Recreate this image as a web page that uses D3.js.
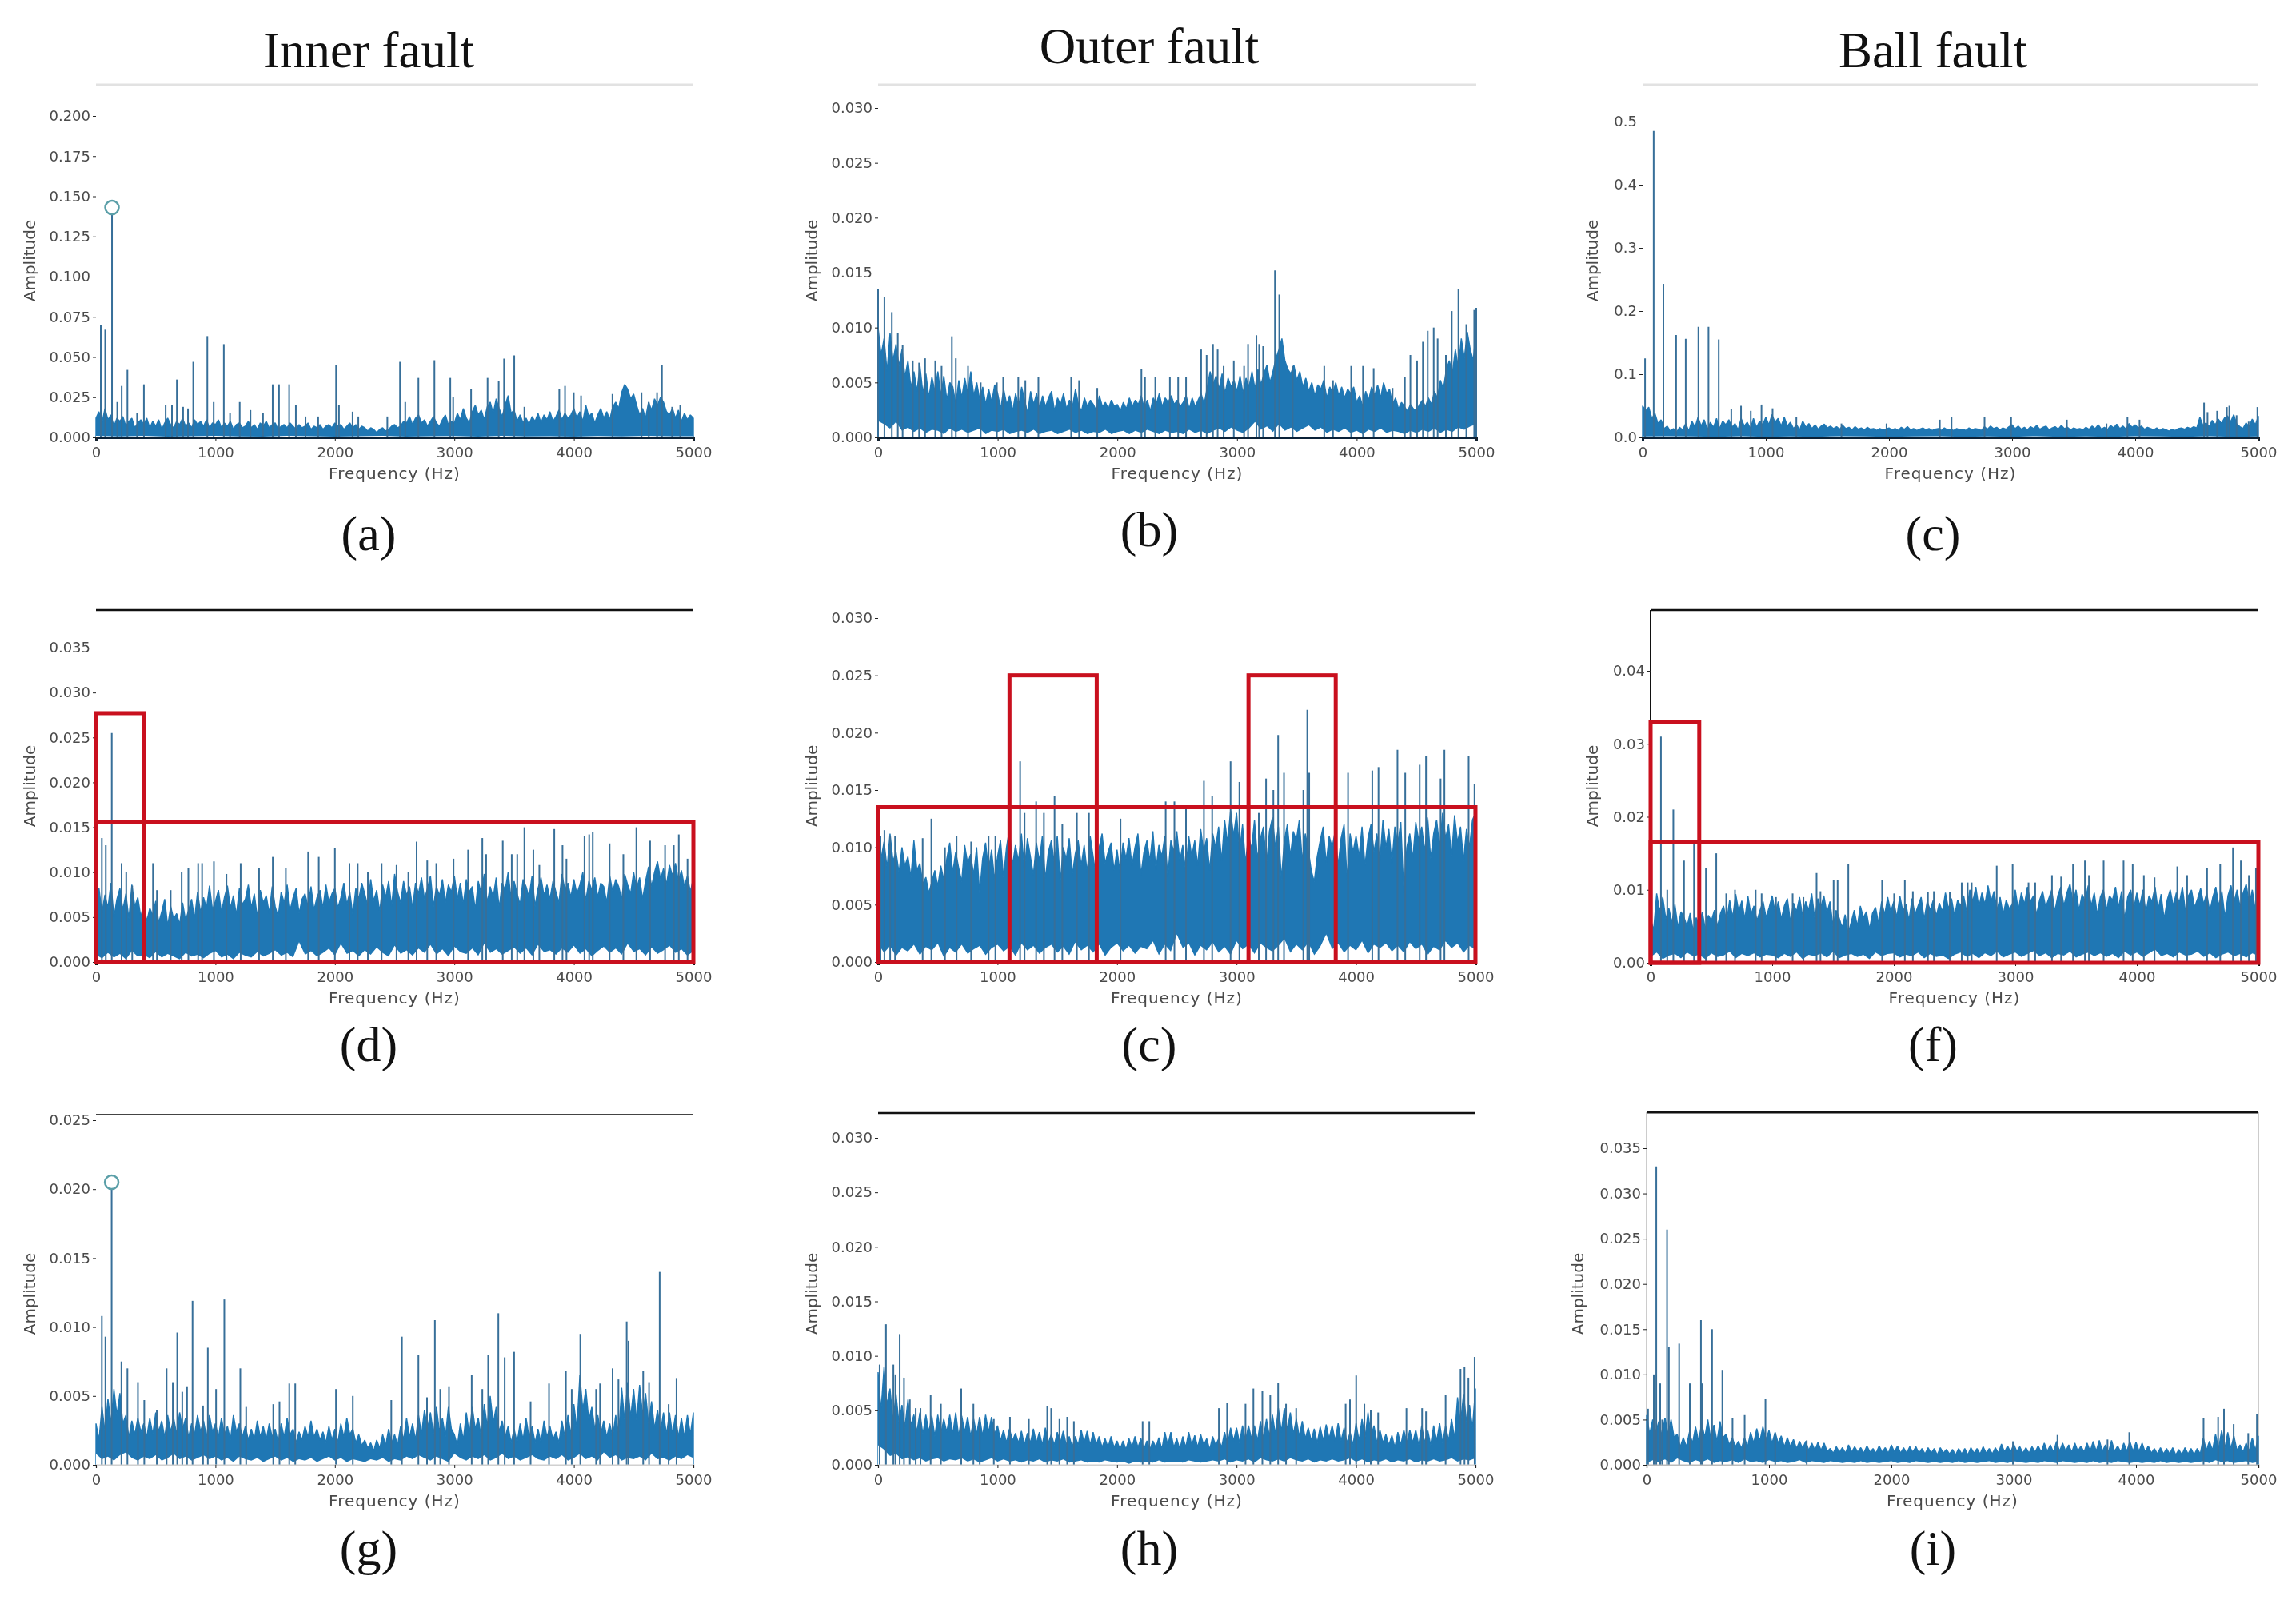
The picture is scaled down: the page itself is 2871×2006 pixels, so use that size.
<!DOCTYPE html>
<html><head><meta charset="utf-8">
<script src="https://cdn.jsdelivr.net/npm/d3@7/dist/d3.min.js"></script>
<style>
html,body{margin:0;padding:0;background:#fff}
svg{display:block}
.soft{filter:blur(0.55px)}
</style></head><body>
<script>
// ---------- data ----------
// spike and tick amplitudes: thousandths. upper/lower profiles: thousandths for A and C, ten-thousandths for the rest.
const freqTicks=[0,1000,2000,3000,4000,5000];
const rowTitles=["Inner fault","Outer fault","Ball fault"];
const captions=["(a)","(b)","(c)","(d)","(c)","(f)","(g)","(h)","(i)"];
const ticksA=[0,25,50,75,100,125,150,175,200];
const ticksB=[0,5,10,15,20,25,30];
const ticksC=[0,100,200,300,400,500];
const ticksD=[0,5,10,15,20,25,30,35];
const ticksE=[0,5,10,15,20,25,30];
const ticksF=[0,10,20,30,40];
const ticksG=[0,5,10,15,20,25];
const ticksH=[0,5,10,15,20,25,30];
const ticksI=[0,5,10,15,20,25,30,35];

const upperA=[12,16,9,18,11,14,7,12,10,13,7,10,12,6,9,11,8,12,6,10,7,11,5,9,12,8,6,10,8,12,7,9,6,11,8,10,7,11,6,9,
8,11,6,9,7,10,5,8,9,6,7,10,6,8,5,9,7,10,6,8,9,5,7,8,6,9,7,5,8,6,7,9,5,7,6,8,5,7,8,6,
9,7,8,5,7,9,6,8,5,7,6,4,6,5,3,5,6,4,5,7,8,6,7,10,9,13,8,12,14,9,11,7,10,13,9,7,11,14,8,10,
9,15,11,18,12,9,16,20,14,17,11,19,22,15,24,18,13,20,26,15,17,10,14,9,12,8,13,10,15,9,14,11,16,10,13,17,11,15,12,14,
18,12,16,10,20,13,15,9,14,18,12,16,11,19,22,18,28,33,30,24,27,20,14,18,12,22,17,24,20,25,22,16,14,18,12,17,10,15,11,14,12];
const spikeFA=[40,77,134,178,215,263,344,401,583,636,677,729,770,814,932,985,1070,1122,1203,1293,1398,1479,1532,1617,1673,1754,1860,2010,2034,2148,2196,2439,2545,2589,2699,2833,2966,2990,3140,3278,3371,3416,3501,3586,3878,3926,3999,4060,4323,4566,4627,4696,4737,4822,4890];
const spikeVA=[70,67,143,22,32,42,15,33,20,20,36,19,18,47,63,22,58,15,22,17,15,33,33,33,20,13,13,45,20,16,13,13,47,22,37,48,37,25,30,37,35,49,51,19,30,32,28,26,27,28,22,28,45,19,20];
const lowerA=[1,.6,1,.5,.8,1,.6,.5,1,.7,.5,.8,1,.5,.7,.9,.5,1,.6,.8,.5,.9,.6,1,.7,.8];

const upperB=[100,75,90,60,95,70,85,65,80,55,70,45,60,42,65,40,58,36,55,42,60,38,56,34,50,46,30,52,36,54,40,60,38,50,34,46,30,44,32,48,
40,26,44,30,38,24,40,28,46,34,22,42,30,40,26,38,28,36,42,24,36,30,40,26,34,28,44,30,24,36,28,34,30,24,38,28,32,26,34,28,
30,24,32,26,36,28,34,30,38,26,34,24,36,30,40,28,36,32,38,30,34,28,32,38,26,36,28,34,40,30,45,60,48,56,44,58,40,54,46,52,
42,56,40,54,46,60,44,62,48,58,66,50,60,72,80,90,70,62,58,66,52,60,46,54,42,50,38,48,44,52,36,46,40,50,38,46,36,44,40,46,
32,38,28,42,34,46,38,48,36,50,40,44,30,36,26,32,28,24,30,26,24,30,34,28,36,30,42,36,52,44,62,70,58,80,64,90,72,96,80,70,100];
const spikeFB=[0,53,115,165,205,290,343,393,478,531,617,650,752,858,993,1046,1172,1231,1340,1614,1680,1832,2201,2231,2317,2439,2508,2574,2700,2746,2799,2838,2888,2973,3059,3092,3162,3185,3218,3317,3353,3465,3729,3802,3954,4053,4142,4300,4403,4449,4505,4554,4594,4644,4677,4746,4795,4851,4917,4983,5000];
const spikeVB=[13.5,12.8,11.4,9.5,8.4,7,6.8,7.2,7,6.5,9.2,7.2,6.5,5,5,5.5,5.5,5.2,5.5,5.5,5.2,4.5,6.2,5.5,5.5,5.5,5.5,5.5,8,7.5,8.5,8,6.5,7,6.5,8.5,9.3,8.5,8.3,15.2,13,6.5,6.5,5.2,6.5,6.5,6.3,4.5,5.5,7.5,7,8.7,9.7,10,9,7.5,11.5,13.5,10.3,11.6,11.8];
const lowerB=[15,12,8,14,6,9,5,8,4,7,6,3,8,5,7,4,6,8,3,6,5,7,3,5,6,4,7,3,5,6,3,5,7,4,6,3,5,4,7,3,5,6,3,6,4,7,5,3,6,4,5,3,7,4,6,3,6,8,5,9,6,4,8,14,7,10,5,12,6,9,5,8,11,6,9,4,7,5,8,4,6,3,7,5,8,4,6,5,3,6,4,7,5,8,4,7,5,9,7,10,12];

const upperC=[50,42,48,30,38,22,28,14,18,10,14,8,16,12,22,10,26,16,32,18,28,12,24,16,30,14,26,20,28,16,22,12,30,18,24,14,30,16,26,20,
32,20,36,24,30,18,32,18,24,14,20,12,26,16,22,14,20,13,18,21,15,18,14,17,13,19,14,16,12,17,13,15,12,16,13,14,11,14,12,13,
15,12,14,11,16,13,17,12,14,11,13,15,12,14,11,13,14,11,15,12,13,11,14,12,13,11,15,12,14,13,11,17,13,18,14,16,12,15,13,17,
20,14,18,13,16,12,17,14,19,13,16,18,12,15,17,13,19,14,16,12,15,13,14,12,16,13,18,14,20,13,16,12,19,15,21,14,18,13,22,16,
20,15,18,13,16,14,12,15,11,14,12,10,13,11,14,15,13,16,14,17,15,32,19,23,17,27,20,29,22,31,34,25,36,21,17,14,23,17,29,20,34];
const spikeFC=[20,90,169,272,350,453,535,618,720,799,878,965,1055,1248,1614,1980,2413,2508,2776,2992,3445,3767,3937,4035,4559,4587,4665,4744,4764,4823,4921,4992];
const spikeVC=[125,485,243,162,156,175,175,155,45,50,42,52,46,32,22,22,28,32,32,32,28,22,32,28,55,40,42,48,50,35,25,48];
const lowerC=[1.5,2,1.5,1,2,1,1.5,1,2,1.5,1,1.5,2,1,1.5,1,2,1,1.5,1,2,1.5,1,2,1,1.5];

const upperD=[50,82,55,75,60,88,50,70,82,58,76,48,86,62,72,50,66,45,60,52,68,44,56,70,40,62,48,54,42,66,46,58,70,48,78,55,72,60,85,58,
68,80,55,72,85,60,74,52,82,64,70,86,60,76,50,80,66,74,54,84,62,50,78,66,86,58,72,82,54,70,76,62,84,58,72,80,60,86,66,76,
82,60,72,88,64,78,52,82,70,88,76,62,92,68,80,56,86,72,90,62,98,78,66,90,74,84,60,88,76,94,70,82,96,62,84,74,92,66,86,78,
96,70,88,64,92,78,84,58,90,76,98,66,84,72,94,60,88,80,100,70,90,76,64,92,84,72,96,62,82,94,74,86,70,90,78,66,98,80,88,72,
92,76,86,100,68,90,80,94,72,88,84,66,96,78,92,84,70,98,86,76,100,82,94,70,90,106,84,100,112,92,104,86,108,96,110,90,102,84,96,78,94];
const spikeFD=[49,82,132,214,253,303,477,510,625,717,773,855,888,987,1092,1211,1365,1480,1589,1776,1865,2000,2122,2191,2276,2391,2516,2615,2684,2773,2849,2993,3115,3234,3266,3405,3480,3526,3586,3661,3711,3836,3905,3938,4089,4128,4158,4299,4414,4523,4638,4763,4836,4878,4951,5000];
const spikeVD=[13.8,13,25.5,11,10,8.5,11,8,8,10,10.5,11,11,11.2,9.8,11,10.5,11.7,10.5,12.3,11.7,12.7,11,11,10,11,10.8,10,13.4,11.3,11,11.5,12.5,13.8,12,13.5,12,12,15,12.5,10.8,14.8,13,11.5,14,14.2,14.5,13.2,12,15,13.5,13,13,14.2,11.5,11.5];
const lowerD=[8,4,10,5,9,3,12,6,8,4,11,5,9,6,3,10,6,8,4,9,12,5,8,3,10,7,5,11,6,9,13,7,10,5,22,8,12,6,10,15,7,20,9,12,6,13,8,16,10,6,18,9,13,7,15,10,19,8,14,6,17,11,9,15,7,20,10,14,8,12,16,9,15,7,19,11,13,8,15,10,18,9,14,6,12,17,10,15,8,20,11,14,7,16,9,13,18,10,14,7,12];

const upperE=[120,90,105,82,112,88,96,78,100,84,92,74,106,80,86,68,74,60,70,80,66,84,72,90,104,78,96,82,70,102,86,94,76,100,60,90,104,80,98,72,
92,106,74,100,116,84,102,88,112,80,108,92,76,104,88,110,72,96,106,86,110,70,100,90,108,76,94,106,84,102,78,110,92,74,100,112,86,96,104,80,
98,78,104,90,108,84,100,112,76,96,106,88,114,80,102,92,110,74,106,96,114,88,102,78,110,92,106,84,116,96,108,80,112,100,118,88,124,104,132,110,
130,96,120,86,112,98,124,90,108,118,84,114,126,100,118,72,106,120,92,114,106,124,88,112,98,80,70,92,106,118,86,110,100,114,84,108,120,72,112,96,
110,92,118,84,108,120,96,112,88,124,100,116,86,118,104,122,60,100,112,90,122,106,118,96,126,90,112,124,100,130,108,120,92,128,104,118,88,116,100,124,130];
const spikeFE=[20,53,101,142,373,446,560,657,779,925,982,1189,1226,1323,1388,1477,1542,1664,1765,2029,2407,2480,2577,2727,2796,2950,3024,3186,3247,3308,3348,3397,3559,3592,3608,3933,4136,4188,4347,4412,4533,4586,4708,4740,4943,4992];
const spikeVE=[11,11.5,11,11,10.8,12.5,10,11,10.5,11,11,17.5,13,14,13,14.5,12,13,13,12.5,14,14,13.5,15.8,14.5,17.5,15.7,13,16,15,19.8,16.5,15,22,16.5,16.5,16.7,17,18.5,16.5,17.2,18,16,18.5,18,15.5];
const lowerE=[16,8,14,5,12,9,15,6,13,10,16,4,12,8,15,7,11,14,6,12,15,9,13,5,16,10,14,7,12,15,8,13,6,17,10,14,8,15,5,12,16,9,14,7,13,11,18,6,15,9,24,12,16,5,14,10,17,8,13,6,18,11,15,7,16,12,9,14,20,8,15,10,17,6,13,24,11,16,8,14,10,18,7,15,12,16,9,14,8,17,11,15,6,13,10,18,12,16,8,14,11];

const upperF=[60,45,95,70,90,60,75,55,80,48,70,62,50,68,44,62,52,70,46,65,58,72,50,68,78,56,86,62,94,70,85,60,92,66,78,58,72,84,62,76,
92,68,84,60,78,88,56,82,70,90,64,84,72,95,60,88,76,92,68,84,50,72,62,48,66,40,56,72,50,78,62,70,46,68,76,54,84,66,90,70,
84,62,92,70,80,58,88,66,78,90,60,84,72,86,64,82,70,96,74,88,64,86,78,92,70,100,84,104,76,96,80,106,84,98,72,90,66,86,74,80,
100,72,96,80,104,84,92,66,86,98,76,88,100,70,92,104,78,96,108,82,100,72,94,84,106,78,96,66,90,100,72,92,86,104,76,98,60,90,100,74,
96,78,100,68,92,84,104,72,94,60,86,100,78,96,82,104,70,92,100,76,88,102,80,96,70,90,104,78,98,62,92,106,84,100,76,96,108,80,100,72,105];
const spikeFF=[85,137,187,275,357,455,540,622,694,864,913,1031,1168,1257,1365,1397,1505,1538,1626,1904,2003,2091,2157,2281,2330,2461,2559,2608,2641,2847,2978,3109,3164,3302,3377,3475,3573,3606,3727,3891,3966,4058,4146,4333,4414,4578,4686,4791,4856,4922,4980];
const spikeVF=[31,10,21,14,16.8,13,15,9.5,10,10,9.5,9,9.5,9,12.3,9.8,11.3,11.3,13.5,11.3,9.5,11.3,9.8,9.7,9.8,9.7,11,11,11,13.3,13.5,11,11,12,11.8,13.5,14,12,14,14,13.5,12,11.7,13.2,12,13,13.5,15.8,14,12,13];
const lowerF=[8,14,5,10,12,6,14,9,11,5,13,8,10,15,6,12,9,13,7,11,10,6,12,8,14,5,11,9,13,7,15,6,10,12,8,11,5,14,9,12,13,7,11,9,14,6,12,8,10,5,11,14,8,12,6,13,9,15,7,11,14,8,12,16,9,13,6,12,10,15,7,11,14,9,13,8,12,6,15,10,14,8,13,18,9,12,7,14,10,11,15,8,13,6,11,14,9,12,7,13,10];

const upperG=[30,18,42,24,48,30,55,36,52,30,36,20,32,22,34,24,30,20,34,22,38,24,32,20,36,24,34,22,38,26,34,20,30,22,36,24,32,20,36,24,
30,20,34,22,28,18,36,24,30,20,28,18,26,18,32,20,28,18,30,20,26,16,30,20,34,22,26,16,24,18,28,20,32,20,26,18,24,16,28,18,
26,16,30,20,34,22,26,16,22,14,18,12,16,10,18,12,22,14,26,16,22,14,28,18,34,20,30,18,36,22,40,26,38,22,42,24,34,20,42,26,
22,14,30,18,38,22,42,26,34,20,44,28,50,30,42,24,32,20,28,16,26,16,30,18,34,20,28,16,26,16,32,20,28,18,24,16,32,20,36,22,
44,26,65,40,55,32,42,26,36,22,32,20,30,20,36,22,56,32,60,34,55,32,58,36,52,30,46,26,40,24,38,22,38,22,36,20,34,20,36,22,38];
const spikeFG=[49,79,131,213,263,351,404,509,591,643,680,722,762,808,896,936,1005,1074,1208,1257,1484,1536,1618,1668,2009,2150,2472,2561,2699,2771,2837,2882,2955,3145,3234,3283,3368,3421,3500,3638,3792,3933,3982,4054,4186,4219,4324,4373,4442,4458,4580,4629,4718,4793,4859];
const spikeVG=[10.8,9.3,20.5,7.5,7,6,4.7,4,7,6,9.6,5.3,5.7,11.9,4.3,8.5,5.5,12,7,4.2,4.4,4.6,5.9,5.9,5.5,5,4.7,9.3,8,4.9,10.5,5.5,5.7,6.5,5.5,8,11,7.8,8.2,4.6,5.9,6.8,5.5,9.5,5.5,5.9,7,6.2,10.4,9,6.8,6,14,4.4,6.3];
const lowerG=[8,4,6,3,7,9,5,3,6,4,7,3,5,8,4,6,3,5,7,4,6,3,5,2,6,4,3,5,2,4,6,3,5,2,4,3,5,2,4,6,3,5,2,4,3,2,4,3,5,2,4,3,6,4,7,5,3,6,4,2,8,5,3,6,4,7,3,5,8,4,6,3,5,7,4,3,6,4,7,3,5,8,4,6,3,9,5,7,3,5,4,6,3,8,4,5,3,6,4,7,5];

const upperH=[85,50,90,55,70,40,65,38,55,34,60,36,46,30,48,28,46,30,45,26,46,28,42,30,46,28,48,26,45,30,44,26,42,28,44,26,46,30,44,28,
36,22,32,20,33,22,29,20,31,18,29,20,33,20,30,18,34,20,28,18,30,20,31,18,26,16,26,18,32,20,31,18,30,18,26,16,24,16,26,16,
22,14,22,14,24,16,26,16,24,14,22,14,22,16,25,14,30,18,30,16,24,14,26,16,30,18,27,16,28,18,24,14,26,18,24,16,30,18,34,22,
34,20,36,22,36,24,36,22,40,24,42,26,46,28,52,30,52,32,48,28,42,26,40,24,34,22,33,20,35,22,37,24,36,22,38,22,34,20,30,18,
38,22,42,24,48,26,36,20,32,20,28,18,27,16,30,18,32,20,32,20,32,18,36,20,32,18,36,22,38,20,36,22,42,24,62,38,65,40,55,34,70];
const spikeFH=[13,66,128,145,181,217,266,315,355,440,526,696,798,851,969,1104,1262,1416,1449,1518,1583,1639,2214,2270,2852,2921,3075,3141,3216,3282,3348,3414,3499,3913,3949,4001,4070,4123,4185,4422,4553,4586,4750,4875,4908,4941,4993];
const spikeVH=[9.2,12.9,9.2,8.3,12,8,6,5.2,5.2,6.4,5.6,7,5.6,4.2,4.2,4.4,4.2,5.4,5.2,4.2,4.4,4,4,4,5.2,5.7,5.6,7,6.8,6.4,7.5,5.6,5.2,5.6,6,8.2,5.6,5,4.8,5.2,5.2,4.9,6.4,8.8,9,8,9.9];
const lowerH=[18,14,8,10,5,7,4,6,3,5,6,3,5,4,6,3,5,2,4,6,3,5,3,4,2,4,3,5,2,4,3,5,2,3,4,2,3,2,4,3,2,3,1,3,2,3,2,4,2,3,3,2,4,3,2,3,4,3,5,2,4,3,5,2,6,4,3,5,3,6,4,3,5,2,4,3,5,3,4,6,3,5,2,4,3,5,2,4,3,5,2,4,3,5,3,4,6,3,5,4,6];

const upperI=[55,34,50,36,48,32,52,34,50,30,34,20,30,20,36,24,42,26,46,30,50,28,44,26,48,30,34,22,30,20,26,18,30,20,36,24,40,26,42,28,
38,24,36,24,32,20,30,20,28,18,26,18,26,16,24,16,25,16,24,15,18,13,20,14,19,13,22,14,20,14,19,13,21,14,18,13,21,14,19,13,
22,14,21,13,19,13,20,14,20,13,18,12,19,13,18,11,19,13,17,12,17,11,18,12,18,11,19,13,18,12,20,13,18,12,19,13,23,14,21,14,
23,15,20,13,19,13,20,14,21,14,24,15,22,14,26,15,24,15,22,14,24,15,21,14,24,15,26,15,27,15,22,14,27,15,21,14,24,15,26,15,
25,15,24,14,21,13,18,12,19,12,18,12,19,11,17,11,19,12,18,11,18,12,30,16,26,16,34,18,38,18,36,18,32,16,22,14,24,15,30,16,32];
const spikeFI=[12,59,79,111,127,167,182,266,353,444,452,535,619,702,801,971,1051,1308,2994,3358,3767,3945,4552,4671,4719,4798,4917,4988];
const spikeVI=[6.2,10,33,9,5,26,13,13.4,9,16,9,15,10.5,5.2,5.5,7.3,3.5,2.7,2.6,3.3,2.8,3.6,5.2,5.3,6.2,4.5,3.5,5.6];
const lowerI=[2,5,3,6,2,7,4,2,5,3,6,2,4,3,5,2,6,3,4,2,5,3,4,2,3,5,2,4,3,2,4,3,2,3,2,4,2,3,2,3,4,2,3,2,4,3,2,3,2,3,2,4,2,3,2,3,4,2,3,2,4,3,2,3,2,4,3,2,4,3,2,3,2,4,2,3,2,4,3,2,3,2,3,2,4,2,3,2,3,2,3,4,2,5,3,4,2,3,4,2,3];

// red highlight boxes: start frequency, end frequency, top amplitude
const boxF0D=[0,0],boxF1D=[400,5000],boxTopD=[27.7,15.6];
const boxF0E=[0,1100,3100],boxF1E=[5000,1830,3830],boxTopE=[13.5,25,25];
const boxF0F=[0,0],boxF1F=[400,5000],boxTopF=[33,16.6];
// circle markers
const markerFA=[134],markerVA=[143];
const markerFG=[131],markerVG=[20.5];

// ---------- layout ----------
const panels=[
 {k:"a",us:1,x:[120,867],y:[547,145],top:200,t:ticksA,d:3,u:upperA,l:lowerA,sf:spikeFA,sv:spikeVA,mf:markerFA,mv:markerVA,cap:688,base:"#0b2238",head:{y:106,c:"#e2e2e2",w:3},ax:44,ay:326,ly:593,ty:566},
 {k:"b",us:10,x:[1098,1846],y:[547,135],top:30,t:ticksB,d:3,u:upperB,l:lowerB,sf:spikeFB,sv:spikeVB,cap:683,base:"#0b2238",head:{y:106,c:"#e2e2e2",w:3},ax:1022,ay:326,ly:593,ty:566},
 {k:"c",us:1,x:[2054,2824],y:[547,152],top:500,t:ticksC,d:1,u:upperC,l:lowerC,sf:spikeFC,sv:spikeVC,cap:688,base:"#0b2238",head:{y:106,c:"#e2e2e2",w:3},ax:1998,ay:326,ly:593,ty:566},
 {k:"d",us:10,x:[120,867],y:[1203,810],top:35,t:ticksD,d:3,u:upperD,l:lowerD,sf:spikeFD,sv:spikeVD,bf0:boxF0D,bf1:boxF1D,bt:boxTopD,cap:1327,base:"#111",head:{y:763,c:"#111",w:2.5},ax:44,ay:983,ly:1249,ty:1222},
 {k:"e",us:10,x:[1098,1845],y:[1203,773],top:30,t:ticksE,d:3,u:upperE,l:lowerE,sf:spikeFE,sv:spikeVE,bf0:boxF0E,bf1:boxF1E,bt:boxTopE,cap:1327,base:"#111",ax:1022,ay:983,ly:1249,ty:1222},
 {k:"f",us:10,x:[2064,2824],y:[1204,839],top:40,t:ticksF,d:2,u:upperF,l:lowerF,sf:spikeFF,sv:spikeVF,bf0:boxF0F,bf1:boxF1F,bt:boxTopF,cap:1327,base:"#111",head:{y:763,c:"#111",w:2.5},left:"#111",ax:1998,ay:983,ly:1249,ty:1222},
 {k:"g",us:10,x:[120,867],y:[1832,1401],top:25,t:ticksG,d:3,u:upperG,l:lowerG,sf:spikeFG,sv:spikeVG,mf:markerFG,mv:markerVG,cap:1957,base:"#d0d0d0",head:{y:1394,c:"#444",w:2},ax:44,ay:1618,ly:1878,ty:1851},
 {k:"h",us:10,x:[1098,1845],y:[1832,1423],top:30,t:ticksH,d:3,u:upperH,l:lowerH,sf:spikeFH,sv:spikeVH,cap:1957,base:"#d0d0d0",head:{y:1392,c:"#111",w:2.5},ax:1022,ay:1618,ly:1878,ty:1851},
 {k:"i",us:10,x:[2059,2824],y:[1832,1436],top:35,t:ticksI,d:3,u:upperI,l:lowerI,sf:spikeFI,sv:spikeVI,cap:1957,base:"#bbb",head:{y:1391,c:"#111",w:3},left:"#ccc",right:"#ccc",ax:1980,ay:1618,ly:1878,ty:1851}
];
const capX=[461,1437,2417];
const titleY=[84,79,84];

const svg=d3.select("body").append("svg").attr("width",2871).attr("height",2006);

rowTitles.forEach((t,i)=>svg.append("text").attr("x",capX[i]).attr("y",titleY[i])
  .attr("text-anchor","middle").attr("font-family","Liberation Serif").attr("font-size",63).attr("fill","#111").text(t));

const blue="#1f77b4", spikeColor="#376f99", red="#c9101e";

panels.forEach((p,idx)=>{
  const x=d3.scaleLinear().domain([0,5000]).range(p.x);
  const y=d3.scaleLinear().domain([0,p.top]).range(p.y);
  const g=svg.append("g");
  const profile=a=>a.map((v,i)=>({f:i*5000/(a.length-1),v:v/p.us}));

  if(p.head) g.append("line").attr("x1",p.x[0]).attr("x2",p.x[1]).attr("y1",p.head.y).attr("y2",p.head.y).attr("stroke",p.head.c).attr("stroke-width",p.head.w);
  if(p.left) g.append("line").attr("x1",p.x[0]).attr("x2",p.x[0]).attr("y1",p.head.y).attr("y2",p.y[0]).attr("stroke",p.left).attr("stroke-width",2);
  if(p.right) g.append("line").attr("x1",p.x[1]).attr("x2",p.x[1]).attr("y1",p.head.y).attr("y2",p.y[0]).attr("stroke",p.right).attr("stroke-width",2);

  g.append("path").datum(profile(p.u)).attr("fill",blue).attr("stroke",blue).attr("stroke-width",1.4).attr("stroke-linejoin","bevel")
    .attr("d",d3.area().x(d=>x(d.f)).y0(y(0)).y1(d=>y(d.v)));
  g.append("path").datum(profile(p.l)).attr("fill","#fff")
    .attr("d",d3.area().x(d=>x(d.f)).y0(y(0)).y1(d=>y(d.v)));
  g.selectAll("line.s").data(p.sf).join("line").attr("class","s")
    .attr("x1",d=>x(d)).attr("x2",d=>x(d)).attr("y1",y(0))
    .attr("y2",(d,i)=>y(p.sv[i])).attr("stroke",spikeColor).attr("stroke-width",2);
  if(p.mf) g.selectAll("circle.m").data(p.mf).join("circle").attr("class","m")
    .attr("cx",d=>x(d)).attr("cy",(d,i)=>y(p.mv[i])).attr("r",8.5)
    .attr("fill","#fff").attr("stroke","#5b9fa8").attr("stroke-width",2.5);

  const ax=g.append("g").attr("transform",`translate(0,${p.y[0]})`)
    .call(d3.axisBottom(x).tickValues(freqTicks).tickSize(4).tickFormat(d3.format("d")));
  ax.select(".domain").attr("stroke",p.base).attr("stroke-width",p.base==="#111"||p.base==="#0b2238"?3:2);
  ax.selectAll(".tick line").attr("stroke","#222");
  const ay=g.append("g").attr("transform",`translate(${p.x[0]},0)`)
    .call(d3.axisLeft(y).tickValues(p.t).tickSize(4).tickFormat(d=>(d/1000).toFixed(p.d)));
  ay.select(".domain").remove();
  ay.selectAll(".tick line").attr("stroke","#222");
  [ax,ay].forEach(a=>a.selectAll("text").attr("class","soft").attr("font-family","DejaVu Sans").attr("font-size",18).attr("fill","#4a4a4a"));
  ax.selectAll("text").attr("y",null).attr("dy",null).attr("transform",`translate(0,${p.ty-p.y[0]+6})`);

  g.append("text").attr("class","soft").attr("x",(p.x[0]+p.x[1])/2).attr("y",p.ly+6).attr("text-anchor","middle")
    .attr("font-family","DejaVu Sans").attr("font-size",20).attr("letter-spacing",1).attr("fill","#4a4a4a").text("Frequency (Hz)");
  g.append("text").attr("class","soft").attr("transform",`translate(${p.ax},${p.ay}) rotate(-90)`).attr("text-anchor","middle")
    .attr("font-family","DejaVu Sans").attr("font-size",20).attr("fill","#4a4a4a").text("Amplitude");

  if(p.bf0) p.bf0.forEach((f0,i)=>g.append("rect").attr("x",x(f0)).attr("y",y(p.bt[i]))
    .attr("width",x(p.bf1[i])-x(f0)).attr("height",y(0)-y(p.bt[i]))
    .attr("fill","none").attr("stroke",red).attr("stroke-width",5));

  svg.append("text").attr("x",capX[idx%3]).attr("y",p.cap).attr("text-anchor","middle")
    .attr("font-family","Liberation Serif").attr("font-size",62).attr("fill","#111").text(captions[idx]);
});
</script></body></html>
